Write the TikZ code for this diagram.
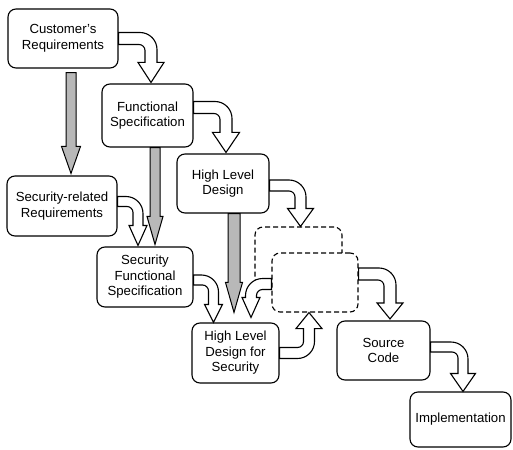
\documentclass[tikz,border=0pt]{standalone}
\usepackage{fontspec}
\setmainfont{Liberation Sans}
\usetikzlibrary{calc}
\def\ro{17pt}
\def\ri{6pt}
% #1 start, #2 tip, #3 hx, #4 vy, #5 shaft half width, #6 head half width, #7 head length
\newcommand\bentarrow[7]{%
\draw[whitearrow] let \p1=(#1), \p2=(#2) in
 (\x1,{\y1-(#4)*(#5)})
 -- ({\x2+(#3)*(#5)-(#3)*\ro},{\y1-(#4)*(#5)})
 .. controls ({\x2+(#3)*(#5)-(#3)*0.448*\ro},{\y1-(#4)*(#5)}) and ({\x2+(#3)*(#5)},{\y1-(#4)*(#5)+(#4)*0.448*\ro}) ..
 ({\x2+(#3)*(#5)},{\y1-(#4)*(#5)+(#4)*\ro})
 -- ({\x2+(#3)*(#5)},{\y2-(#4)*(#7)})
 -- ({\x2+(#3)*(#6)},{\y2-(#4)*(#7)})
 -- (\x2,\y2)
 -- ({\x2-(#3)*(#6)},{\y2-(#4)*(#7)})
 -- ({\x2-(#3)*(#5)},{\y2-(#4)*(#7)})
 -- ({\x2-(#3)*(#5)},{\y1+(#4)*(#5)+(#4)*\ri})
 .. controls ({\x2-(#3)*(#5)},{\y1+(#4)*(#5)+(#4)*0.448*\ri}) and ({\x2-(#3)*(#5)-(#3)*0.448*\ri},{\y1+(#4)*(#5)}) ..
 ({\x2-(#3)*(#5)-(#3)*\ri},{\y1+(#4)*(#5)})
 -- (\x1,{\y1+(#4)*(#5)}) -- cycle;}
% #1 start, #2 end (y only), #3 shaft half width, #4 head half width, #5 head length
\newcommand\grayarrow[5]{%
\draw[grayarr] let \p1=(#1), \p2=(#2) in
 ({\x1-#3},\y1) -- ({\x1-#3},{\y2+#5}) -- ({\x1-#4},{\y2+#5}) -- (\x1,\y2)
 -- ({\x1+#4},{\y2+#5}) -- ({\x1+#3},{\y2+#5}) -- ({\x1+#3},\y1) -- cycle;}
\tikzset{
 box/.style={draw, line width=1.1pt, rounded corners=8pt, align=center, inner sep=0pt,
   font=\fontsize{13.2}{15.5}\selectfont, fill=white},
 dbox/.style={draw, line width=1.1pt, rounded corners=8pt, dash pattern=on 5pt off 3pt, fill=white, inner sep=0pt},
 whitearrow/.style={draw, fill=white, line width=1.1pt, line join=miter},
 grayarr/.style={draw, fill=black!28, line width=1pt, line join=miter}
}
\begin{document}
\begin{tikzpicture}[x=1pt,y=-1pt]
\useasboundingbox (0,0) rectangle (513,449);
\node[dbox, minimum width=87pt, minimum height=60pt] (back) at (298.5,257) {};
\node[dbox, minimum width=86pt, minimum height=59pt] (front) at (315,282.5) {};
\node[box, minimum width=110pt, minimum height=59pt] (cust) at (63,38.5) {Customer's\\Requirements};
\node[box, minimum width=91pt, minimum height=63pt] (fs) at (147.5,115.5) {Functional\\Specification};
\node[box, minimum width=92pt, minimum height=59pt] (hld) at (223,183.5) {High Level\\Design};
\node[box, minimum width=110pt, minimum height=60pt] (srr) at (62,206) {Security-related\\Requirements};
\node[box, minimum width=96pt, minimum height=60pt] (sfs) at (145,277) {Security\\Functional\\Specification};
\node[box, minimum width=87pt, minimum height=60pt] (hlds) at (235.5,353) {High Level\\Design for\\Security};
\node[box, minimum width=93pt, minimum height=59pt] (src) at (383.5,350.5) {Source\\Code};
\node[box, minimum width=101pt, minimum height=55pt] (impl) at (460.5,419.5) {Implementation};
% gray arrows
\grayarrow{[xshift=8pt,yshift=-4pt]cust.south}{[yshift=2pt]srr.north}{5pt}{9.5pt}{27pt}
\grayarrow{[xshift=7.5pt]fs.south}{[yshift=2pt]sfs.north}{5pt}{8pt}{28pt}
\grayarrow{[xshift=11pt]hld.south}{[yshift=10pt]hlds.north}{6pt}{8.5pt}{30pt}
% white bent arrows
\bentarrow{cust.east}{[xshift=3.5pt,yshift=1pt]fs.north}{1}{-1}{6pt}{13pt}{20pt}
\bentarrow{[yshift=8pt]fs.east}{[xshift=3pt,yshift=1pt]hld.north}{1}{-1}{6pt}{13.5pt}{20pt}
\bentarrow{[yshift=-2pt]hld.east}{[xshift=2pt]back.north}{1}{-1}{5.5pt}{13pt}{18pt}
\bentarrow{[yshift=4.5pt]srr.east}{[xshift=-7pt,yshift=1pt]sfs.north}{1}{-1}{5pt}{9pt}{20pt}
\bentarrow{[yshift=-3pt]sfs.east}{[xshift=-22pt]hlds.north}{1}{-1}{5pt}{9pt}{18pt}
\bentarrow{[yshift=-1.5pt]front.west}{[xshift=15.5pt,yshift=5pt]hlds.north}{-1}{-1}{5.5pt}{9pt}{20pt}
\bentarrow{hlds.east}{[xshift=-6pt]front.south}{1}{1}{5.5pt}{13pt}{16pt}
\bentarrow{[yshift=8.5pt]front.east}{[xshift=6.5pt,yshift=1.5pt]src.north}{1}{-1}{6pt}{13pt}{16pt}
\bentarrow{[yshift=3.5pt]src.east}{[xshift=2.5pt]impl.north}{1}{-1}{5pt}{12.5pt}{18pt}
\end{tikzpicture}
\end{document}
